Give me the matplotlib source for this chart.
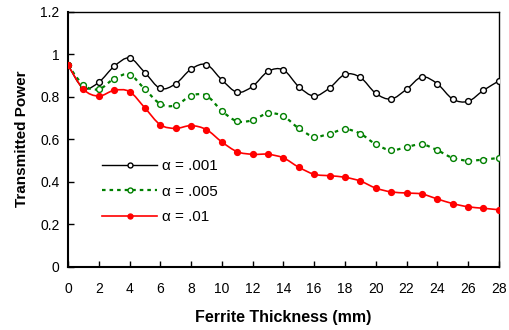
import numpy as np
import matplotlib
matplotlib.use("Agg")
import matplotlib.pyplot as plt
from matplotlib.path import Path
from matplotlib.patches import PathPatch
from matplotlib.lines import Line2D

plt.rcParams['font.family'] = ['Liberation Sans', 'DejaVu Sans']

thickness = list(range(0, 29))
p001 = [0.949, 0.84, 0.868, 0.943, 0.982, 0.913, 0.839, 0.861, 0.930, 0.951,
        0.879, 0.821, 0.849, 0.919, 0.926, 0.847, 0.803, 0.841, 0.905, 0.891,
        0.816, 0.789, 0.835, 0.893, 0.861, 0.789, 0.778, 0.830, 0.874]
p005 = [0.949, 0.855, 0.835, 0.885, 0.904, 0.835, 0.766, 0.759, 0.805, 0.805,
        0.733, 0.684, 0.690, 0.722, 0.708, 0.651, 0.612, 0.626, 0.647, 0.626,
        0.576, 0.548, 0.563, 0.576, 0.548, 0.512, 0.499, 0.504, 0.512]
p01 = [0.949, 0.835, 0.803, 0.830, 0.824, 0.747, 0.668, 0.651, 0.664, 0.645,
       0.587, 0.541, 0.529, 0.529, 0.512, 0.468, 0.435, 0.428, 0.421, 0.403,
       0.370, 0.352, 0.347, 0.342, 0.319, 0.297, 0.282, 0.275, 0.268]
labels = ['α = .001', 'α = .005', 'α = .01']

fig = plt.figure(figsize=(5.09, 3.30), dpi=100)
ax = fig.add_axes([0.1336, 0.1918, 0.8464, 0.7727])


def smooth_path(x, y):
    pts = np.column_stack([x, y]).astype(float)
    n = len(pts)
    verts = [pts[0]]
    codes = [Path.MOVETO]
    for i in range(n - 1):
        p0 = pts[i - 1] if i > 0 else pts[i]
        p1 = pts[i]
        p2 = pts[i + 1]
        p3 = pts[i + 2] if i + 2 < n else pts[i + 1]
        c1 = p1 + (p2 - p0) / 6.0
        c2 = p2 - (p3 - p1) / 6.0
        verts += [c1, c2, p2]
        codes += [Path.CURVE4] * 3
    return Path(verts, codes)


styles = [
    dict(color='black', lw=1.0, ls='-', mfc='white', mec='black', ms=4.2),
    dict(color='green', lw=1.6, ls=(0, (1.6, 1.8)), mfc='white', mec='green', ms=4.2),
    dict(color='red', lw=1.2, ls='-', mfc='red', mec='red', ms=4.2),
]
series = [p001, p005, p01]
handles = []
for ys, st, lab in zip(series, styles, labels):
    patch = PathPatch(smooth_path(thickness, ys), facecolor='none', edgecolor=st['color'],
                      lw=st['lw'], linestyle=st['ls'], transform=ax.transData, zorder=2)
    ax.add_patch(patch)
    ax.plot(thickness, ys, linestyle='none', marker='o', ms=st['ms'], mfc=st['mfc'],
            mec=st['mec'], mew=1.0, zorder=3)
    handles.append(Line2D([], [], color=st['color'], lw=st['lw'], linestyle=st['ls'],
                          marker='o', ms=st['ms'] * 0.85, mfc=st['mfc'], mec=st['mec'], mew=1.0))

ax.set_xlim(0, 28)
ax.set_ylim(0, 1.2)
ax.set_xticks(range(0, 29, 2))
ax.set_yticks([0, 0.2, 0.4, 0.6, 0.8, 1.0, 1.2])
ax.set_yticklabels(['0', '0.2', '0.4', '0.6', '0.8', '1', '1.2'])
ax.tick_params(direction='in', length=4, width=1, labelsize=10, colors='black')
ax.tick_params(axis='x', pad=11)
ax.tick_params(axis='y', pad=6)
ax.tick_params(top=False, right=False)
for s in ['left', 'bottom']:
    ax.spines[s].set_linewidth(1.5)
for s in ['top', 'right']:
    ax.spines[s].set_linewidth(1.0)

ax.set_xlabel('Ferrite Thickness (mm)', fontsize=11.5, fontweight='bold', labelpad=10)
ax.set_ylabel('Transmitted Power', fontsize=11, fontweight='bold', labelpad=8)

leg = ax.legend(handles, labels, loc='upper left', bbox_to_anchor=(0.065, 0.445),
                frameon=False, fontsize=11, handlelength=3.6, handletextpad=0.3,
                labelspacing=0.75, borderaxespad=0)

fig.savefig('out.png', dpi=100)
